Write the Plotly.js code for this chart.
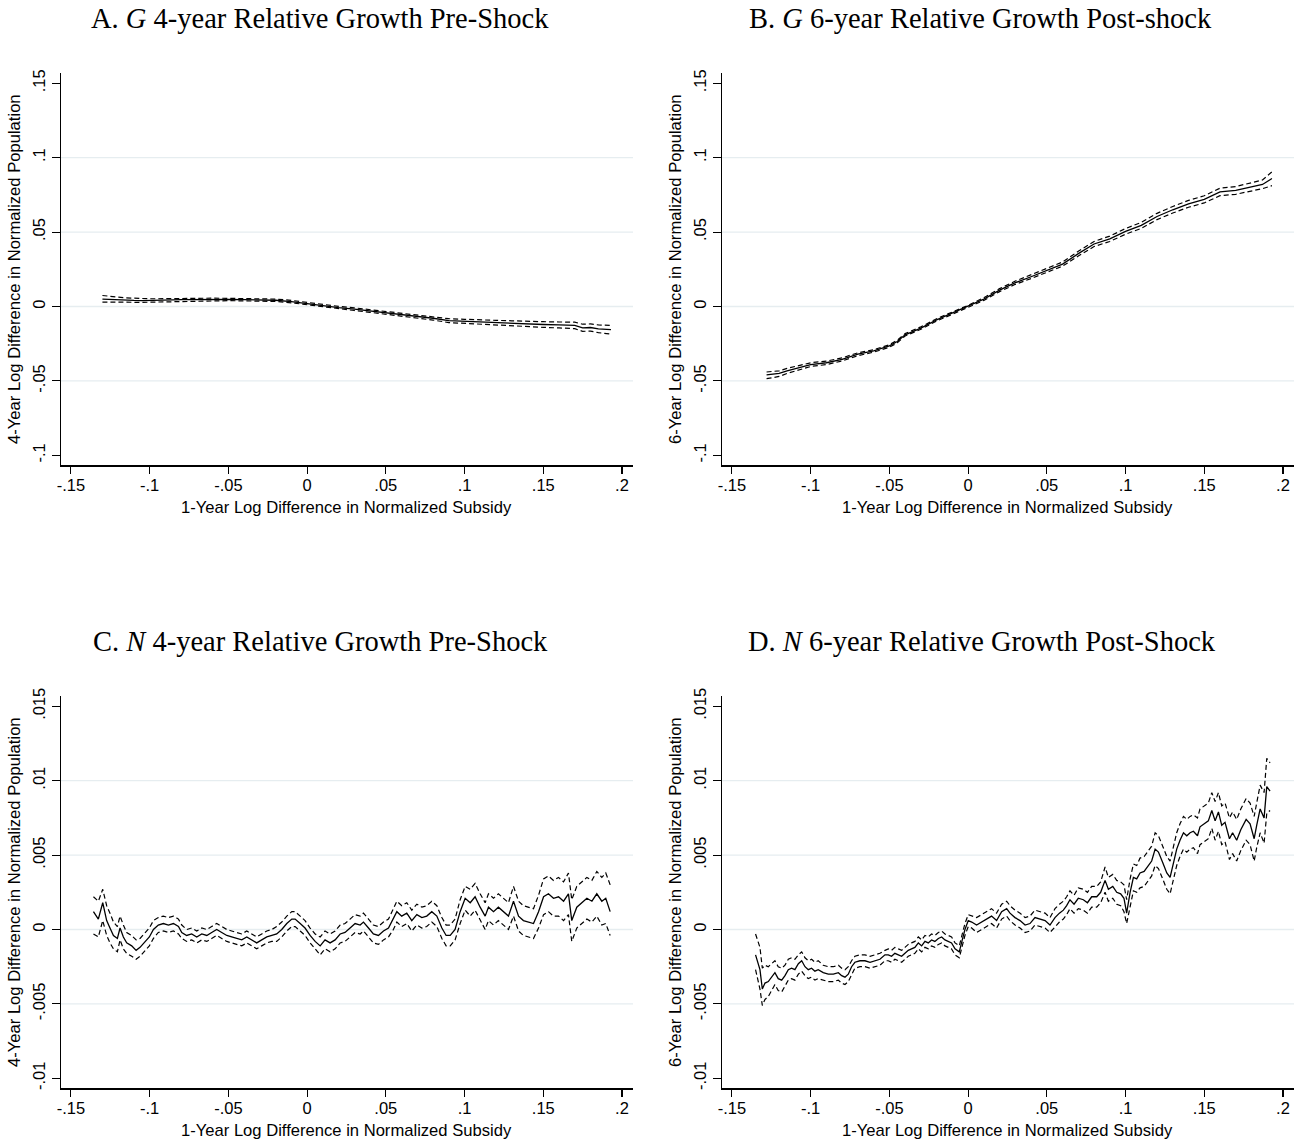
<!DOCTYPE html>
<html>
<head>
<meta charset="utf-8">
<script src="https://cdn.plot.ly/plotly-3.0.1.min.js"></script>
<style>body{margin:0;background:#fff;}</style>
</head>
<body>
<div id="chart" style="width:1306px;height:1143px;"></div>
<script>
// panel A: G, 4-year pre-shock
var aX = [-0.130,-0.125,-0.120,-0.115,-0.110,-0.105,-0.100,-0.095,-0.090,-0.085,
  -0.080,-0.070,-0.060,-0.050,-0.040,-0.030,-0.020,-0.010,0.000,0.010,
  0.020,0.030,0.040,0.050,0.060,0.070,0.080,0.090,0.100,0.110,
  0.120,0.130,0.140,0.150,0.160,0.170,0.175,0.180,0.185,0.193];
var aFit = [0.0050,0.0047,0.0046,0.0043,0.0041,0.0040,0.0040,0.0041,0.0043,0.0044,
  0.0046,0.0048,0.0048,0.0047,0.0046,0.0044,0.0042,0.0033,0.0019,0.0006,
  -0.0007,-0.0018,-0.0030,-0.0042,-0.0054,-0.0065,-0.0079,-0.0095,-0.0100,-0.0102,
  -0.0109,-0.0113,-0.0119,-0.0121,-0.0124,-0.0127,-0.0143,-0.0141,-0.0150,-0.0155];
var aHi = [0.0074,0.0066,0.0063,0.0058,0.0055,0.0053,0.0052,0.0052,0.0053,0.0054,
  0.0055,0.0056,0.0056,0.0055,0.0054,0.0052,0.0050,0.0041,0.0027,0.0014,
  0.0001,-0.0009,-0.0021,-0.0032,-0.0043,-0.0054,-0.0067,-0.0082,-0.0086,-0.0087,
  -0.0093,-0.0096,-0.0101,-0.0102,-0.0104,-0.0105,-0.0119,-0.0117,-0.0124,-0.0127];
var aLo = [0.0030,0.0029,0.0030,0.0029,0.0028,0.0028,0.0029,0.0030,0.0033,0.0035,
  0.0037,0.0040,0.0040,0.0039,0.0038,0.0036,0.0034,0.0025,0.0011,-0.0002,
  -0.0015,-0.0027,-0.0039,-0.0052,-0.0065,-0.0076,-0.0091,-0.0108,-0.0114,-0.0117,
  -0.0125,-0.0130,-0.0137,-0.0140,-0.0144,-0.0149,-0.0167,-0.0165,-0.0176,-0.0185];

// panel B: G, 6-year post-shock
var bX = [-0.128,-0.120,-0.115,-0.108,-0.100,-0.090,-0.080,-0.070,-0.060,-0.050,
  -0.045,-0.040,-0.030,-0.020,-0.010,0.000,0.010,0.020,0.030,0.040,
  0.050,0.060,0.070,0.080,0.090,0.100,0.110,0.120,0.130,0.140,
  0.150,0.160,0.170,0.180,0.187,0.193];
var bFit = [-0.0460,-0.0450,-0.0432,-0.0412,-0.0390,-0.0378,-0.0355,-0.0320,-0.0298,-0.0265,
  -0.0235,-0.0190,-0.0145,-0.0090,-0.0045,0.0000,0.0050,0.0110,0.0160,0.0200,
  0.0245,0.0285,0.0355,0.0420,0.0455,0.0505,0.0545,0.0605,0.0650,0.0690,
  0.0720,0.0770,0.0780,0.0805,0.0820,0.0860];
var bHi = [-0.0440,-0.0432,-0.0416,-0.0398,-0.0378,-0.0367,-0.0345,-0.0311,-0.0290,-0.0257,
  -0.0227,-0.0182,-0.0137,-0.0082,-0.0037,0.0008,0.0059,0.0120,0.0171,0.0212,
  0.0258,0.0299,0.0371,0.0437,0.0473,0.0524,0.0565,0.0626,0.0672,0.0713,
  0.0744,0.0795,0.0806,0.0832,0.0850,0.0905];
var bLo = [-0.0485,-0.0470,-0.0450,-0.0428,-0.0403,-0.0390,-0.0366,-0.0330,-0.0307,-0.0274,
  -0.0244,-0.0198,-0.0153,-0.0098,-0.0053,-0.0008,0.0041,0.0100,0.0149,0.0188,
  0.0232,0.0271,0.0339,0.0403,0.0437,0.0486,0.0525,0.0584,0.0628,0.0667,
  0.0696,0.0745,0.0754,0.0778,0.0792,0.0812];

// panel C: N, 4-year pre-shock
var cX = [-0.1357,-0.1326,-0.1298,-0.1273,-0.1252,-0.1230,-0.1205,-0.1188,-0.1167,-0.1146,
  -0.1114,-0.1086,-0.1061,-0.1029,-0.1002,-0.0976,-0.0945,-0.0913,-0.0881,-0.0849,
  -0.0817,-0.0796,-0.0765,-0.0733,-0.0701,-0.0669,-0.0637,-0.0606,-0.0574,-0.0542,
  -0.0510,-0.0479,-0.0447,-0.0415,-0.0383,-0.0352,-0.0320,-0.0288,-0.0256,-0.0224,
  -0.0193,-0.0161,-0.0129,-0.0097,-0.0076,-0.0044,-0.0013,0.0019,0.0051,0.0083,
  0.0114,0.0146,0.0178,0.0210,0.0241,0.0273,0.0305,0.0337,0.0358,0.0390,
  0.0421,0.0453,0.0485,0.0517,0.0548,0.0570,0.0601,0.0633,0.0665,0.0697,
  0.0729,0.0760,0.0792,0.0824,0.0856,0.0883,0.0909,0.0940,0.0972,0.1004,
  0.1036,0.1067,0.1099,0.1131,0.1152,0.1184,0.1215,0.1247,0.1279,0.1311,
  0.1343,0.1374,0.1406,0.1438,0.1470,0.1502,0.1533,0.1565,0.1597,0.1629,
  0.1660,0.1681,0.1713,0.1745,0.1777,0.1809,0.1840,0.1872,0.1897,0.1925];
var cFit = [0.0012,0.0007,0.0018,0.0006,0.0001,-0.0004,-0.0006,0.0001,-0.0005,-0.0009,
  -0.0011,-0.0014,-0.0012,-0.0008,-0.0005,0.0000,0.0003,0.0004,0.0003,0.0004,
  0.0002,-0.0002,-0.0004,-0.0003,-0.0005,-0.0003,-0.0004,-0.0002,0.0000,-0.0002,
  -0.0004,-0.0005,-0.0006,-0.0007,-0.0005,-0.0007,-0.0009,-0.0007,-0.0005,-0.0004,
  -0.0003,0.0000,0.0004,0.0007,0.0007,0.0004,0.0001,-0.0004,-0.0008,-0.0011,
  -0.0007,-0.0009,-0.0007,-0.0003,-0.0002,0.0001,0.0004,0.0003,0.0005,0.0001,
  -0.0003,-0.0004,-0.0001,0.0001,0.0007,0.0012,0.0009,0.0011,0.0006,0.0010,
  0.0008,0.0009,0.0012,0.0009,0.0001,-0.0004,-0.0004,0.0000,0.0012,0.0021,
  0.0018,0.0022,0.0015,0.0009,0.0015,0.0012,0.0015,0.0012,0.0009,0.0019,
  0.0009,0.0006,0.0005,0.0004,0.0012,0.0022,0.0024,0.0021,0.0022,0.0019,
  0.0024,0.0006,0.0015,0.0018,0.0021,0.0019,0.0024,0.0019,0.0021,0.0012];
var cHi = [0.0022,0.0019,0.0027,0.0016,0.0011,0.0005,0.0002,0.0009,0.0003,-0.0002,
  -0.0004,-0.0007,-0.0006,-0.0002,0.0001,0.0006,0.0008,0.0009,0.0008,0.0009,
  0.0007,0.0003,0.0000,0.0001,-0.0001,0.0001,0.0000,0.0002,0.0004,0.0002,
  0.0000,-0.0001,-0.0002,-0.0003,-0.0001,-0.0003,-0.0005,-0.0003,-0.0001,0.0000,
  0.0002,0.0005,0.0009,0.0012,0.0012,0.0009,0.0006,0.0001,-0.0003,-0.0005,
  -0.0001,-0.0003,-0.0001,0.0003,0.0004,0.0007,0.0010,0.0009,0.0011,0.0007,
  0.0003,0.0002,0.0005,0.0007,0.0014,0.0019,0.0016,0.0018,0.0013,0.0017,
  0.0015,0.0016,0.0019,0.0016,0.0008,0.0003,0.0003,0.0007,0.0020,0.0029,
  0.0027,0.0031,0.0024,0.0018,0.0024,0.0021,0.0024,0.0021,0.0018,0.0029,
  0.0019,0.0016,0.0015,0.0014,0.0023,0.0034,0.0036,0.0033,0.0035,0.0032,
  0.0038,0.0020,0.0029,0.0032,0.0035,0.0033,0.0039,0.0035,0.0038,0.0030];
var cLo = [-0.0003,-0.0005,0.0006,-0.0004,-0.0009,-0.0013,-0.0015,-0.0007,-0.0013,-0.0016,
  -0.0018,-0.0020,-0.0018,-0.0014,-0.0011,-0.0006,-0.0002,-0.0001,-0.0002,-0.0001,
  -0.0003,-0.0006,-0.0008,-0.0007,-0.0009,-0.0007,-0.0008,-0.0006,-0.0004,-0.0006,
  -0.0008,-0.0009,-0.0010,-0.0011,-0.0009,-0.0011,-0.0013,-0.0011,-0.0009,-0.0008,
  -0.0008,-0.0005,-0.0001,0.0002,0.0002,-0.0001,-0.0004,-0.0009,-0.0013,-0.0017,
  -0.0013,-0.0015,-0.0013,-0.0009,-0.0008,-0.0005,-0.0002,-0.0003,-0.0001,-0.0005,
  -0.0009,-0.0010,-0.0007,-0.0005,0.0000,0.0005,0.0002,0.0004,-0.0001,0.0003,
  0.0001,0.0002,0.0005,0.0002,-0.0006,-0.0011,-0.0011,-0.0007,0.0004,0.0013,
  0.0009,0.0013,0.0006,0.0000,0.0006,0.0003,0.0006,0.0003,0.0000,0.0009,
  -0.0001,-0.0004,-0.0005,-0.0006,0.0001,0.0010,0.0012,0.0009,0.0009,0.0006,
  0.0010,-0.0008,0.0001,0.0004,0.0007,0.0005,0.0009,0.0003,0.0004,-0.0004];

// panel D: N, 6-year post-shock
var dX = [-0.1350,-0.1322,-0.1307,-0.1290,-0.1269,-0.1248,-0.1227,-0.1206,-0.1184,-0.1163,
  -0.1142,-0.1121,-0.1100,-0.1078,-0.1057,-0.1036,-0.1015,-0.0994,-0.0973,-0.0952,
  -0.0920,-0.0888,-0.0856,-0.0824,-0.0803,-0.0782,-0.0761,-0.0740,-0.0719,-0.0687,
  -0.0655,-0.0623,-0.0592,-0.0560,-0.0528,-0.0507,-0.0486,-0.0465,-0.0443,-0.0422,
  -0.0401,-0.0380,-0.0359,-0.0338,-0.0316,-0.0295,-0.0274,-0.0253,-0.0232,-0.0211,
  -0.0189,-0.0168,-0.0147,-0.0126,-0.0105,-0.0083,-0.0056,-0.0037,-0.0020,0.0001,
  0.0023,0.0054,0.0086,0.0118,0.0149,0.0181,0.0213,0.0245,0.0266,0.0298,
  0.0330,0.0362,0.0393,0.0425,0.0457,0.0489,0.0520,0.0552,0.0580,0.0605,
  0.0626,0.0647,0.0673,0.0700,0.0732,0.0758,0.0785,0.0817,0.0842,0.0870,
  0.0891,0.0919,0.0944,0.0969,0.0990,0.1007,0.1029,0.1050,0.1071,0.1092,
  0.1118,0.1145,0.1166,0.1188,0.1209,0.1236,0.1262,0.1283,0.1304,0.1325,
  0.1346,0.1368,0.1389,0.1410,0.1431,0.1457,0.1473,0.1499,0.1526,0.1548,
  0.1569,0.1590,0.1611,0.1632,0.1660,0.1680,0.1706,0.1732,0.1766,0.1791,
  0.1817,0.1833,0.1855,0.1880,0.1897,0.1918];
var dFit = [-0.0017,-0.0027,-0.0040,-0.0036,-0.0035,-0.0032,-0.0029,-0.0033,-0.0034,-0.0031,
  -0.0027,-0.0026,-0.0027,-0.0023,-0.0021,-0.0025,-0.0027,-0.0026,-0.0028,-0.0027,
  -0.0029,-0.0030,-0.0030,-0.0029,-0.0031,-0.0032,-0.0030,-0.0025,-0.0022,-0.0021,
  -0.0021,-0.0022,-0.0021,-0.0020,-0.0017,-0.0017,-0.0018,-0.0016,-0.0017,-0.0018,
  -0.0016,-0.0014,-0.0013,-0.0012,-0.0009,-0.0011,-0.0008,-0.0009,-0.0007,-0.0008,
  -0.0006,-0.0005,-0.0007,-0.0008,-0.0009,-0.0013,-0.0015,-0.0007,0.0000,0.0006,
  0.0005,0.0003,0.0005,0.0007,0.0009,0.0006,0.0012,0.0014,0.0011,0.0008,
  0.0006,0.0003,0.0004,0.0008,0.0007,0.0006,0.0003,0.0008,0.0011,0.0013,
  0.0016,0.0020,0.0017,0.0021,0.0020,0.0018,0.0022,0.0022,0.0025,0.0033,
  0.0027,0.0029,0.0025,0.0024,0.0021,0.0011,0.0025,0.0035,0.0034,0.0038,
  0.0039,0.0043,0.0046,0.0054,0.0052,0.0045,0.0038,0.0035,0.0044,0.0054,
  0.0060,0.0065,0.0063,0.0065,0.0066,0.0063,0.0069,0.0071,0.0073,0.0080,
  0.0073,0.0079,0.0070,0.0072,0.0061,0.0065,0.0060,0.0067,0.0074,0.0071,
  0.0061,0.0070,0.0081,0.0075,0.0096,0.0093];
var dHi = [-0.0003,-0.0012,-0.0026,-0.0024,-0.0025,-0.0023,-0.0021,-0.0025,-0.0026,-0.0024,
  -0.0020,-0.0019,-0.0020,-0.0017,-0.0015,-0.0019,-0.0021,-0.0020,-0.0022,-0.0021,
  -0.0024,-0.0025,-0.0025,-0.0024,-0.0026,-0.0027,-0.0025,-0.0021,-0.0018,-0.0017,
  -0.0017,-0.0018,-0.0017,-0.0016,-0.0014,-0.0013,-0.0014,-0.0012,-0.0013,-0.0014,
  -0.0012,-0.0010,-0.0009,-0.0008,-0.0005,-0.0007,-0.0004,-0.0005,-0.0003,-0.0004,
  -0.0002,-0.0001,-0.0003,-0.0004,-0.0005,-0.0009,-0.0011,-0.0003,0.0004,0.0010,
  0.0009,0.0008,0.0010,0.0012,0.0014,0.0011,0.0017,0.0019,0.0016,0.0013,
  0.0011,0.0008,0.0009,0.0013,0.0012,0.0011,0.0008,0.0014,0.0017,0.0019,
  0.0022,0.0026,0.0023,0.0028,0.0027,0.0025,0.0029,0.0029,0.0032,0.0042,
  0.0035,0.0037,0.0033,0.0032,0.0030,0.0020,0.0034,0.0044,0.0043,0.0048,
  0.0049,0.0053,0.0056,0.0065,0.0063,0.0056,0.0049,0.0046,0.0055,0.0065,
  0.0071,0.0076,0.0074,0.0076,0.0077,0.0075,0.0081,0.0083,0.0085,0.0092,
  0.0086,0.0092,0.0083,0.0085,0.0075,0.0079,0.0074,0.0081,0.0088,0.0085,
  0.0076,0.0085,0.0097,0.0092,0.0115,0.0112];
var dLo = [-0.0027,-0.0040,-0.0051,-0.0047,-0.0045,-0.0041,-0.0037,-0.0041,-0.0042,-0.0038,
  -0.0034,-0.0033,-0.0034,-0.0030,-0.0028,-0.0031,-0.0033,-0.0032,-0.0034,-0.0033,
  -0.0034,-0.0035,-0.0035,-0.0034,-0.0036,-0.0037,-0.0035,-0.0030,-0.0026,-0.0025,
  -0.0025,-0.0026,-0.0025,-0.0024,-0.0021,-0.0021,-0.0022,-0.0020,-0.0021,-0.0022,
  -0.0020,-0.0018,-0.0017,-0.0016,-0.0013,-0.0015,-0.0012,-0.0013,-0.0011,-0.0012,
  -0.0010,-0.0009,-0.0011,-0.0012,-0.0013,-0.0017,-0.0019,-0.0011,-0.0004,0.0002,
  0.0001,-0.0002,0.0000,0.0002,0.0004,0.0001,0.0007,0.0009,0.0006,0.0003,
  0.0001,-0.0002,-0.0001,0.0003,0.0002,0.0001,-0.0002,0.0002,0.0005,0.0007,
  0.0010,0.0014,0.0011,0.0014,0.0013,0.0011,0.0015,0.0015,0.0018,0.0025,
  0.0019,0.0021,0.0017,0.0016,0.0012,0.0004,0.0016,0.0026,0.0025,0.0028,
  0.0029,0.0033,0.0036,0.0043,0.0041,0.0034,0.0027,0.0024,0.0033,0.0043,
  0.0049,0.0054,0.0052,0.0054,0.0055,0.0051,0.0057,0.0059,0.0061,0.0068,
  0.0060,0.0066,0.0057,0.0059,0.0047,0.0051,0.0046,0.0053,0.0060,0.0057,
  0.0046,0.0055,0.0065,0.0058,0.0078,0.0080];

// ticks
var xTickVals = [-0.15,-0.1,-0.05,0,0.05,0.1,0.15,0.2];
var xTickText = ["-.15","-.1","-.05","0",".05",".1",".15",".2"];
var gTickVals = [-0.1,-0.05,0,0.05,0.1,0.15];
var gTickText = ["-.1","-.05","0",".05",".1",".15"];
var nTickVals = [-0.01,-0.005,0,0.005,0.01,0.015];
var nTickText = ["-.01","-.005","0",".005",".01",".015"];
var gGrid = [-0.05,0,0.05,0.1];
var nGrid = [-0.005,0,0.005,0.01];

var titles = ["A. <i>G</i> 4-year Relative Growth Pre-Shock",
  "B. <i>G</i> 6-year Relative Growth Post-shock",
  "C. <i>N</i> 4-year Relative Growth Pre-Shock",
  "D. <i>N</i> 6-year Relative Growth Post-Shock"];
var xTitle = "1-Year Log Difference in Normalized Subsidy";
var yTitles = ["4-Year Log Difference in Normalized Population",
  "6-Year Log Difference in Normalized Population",
  "4-Year Log Difference in Normalized Population",
  "6-Year Log Difference in Normalized Population"];

var SANS = "Liberation Sans, Arial, sans-serif";
var SERIF = "Liberation Serif, Times New Roman, serif";
var DASH = "5px,3px";

function band(x, y, n, dashed) {
  return {
    x: x, y: y, xaxis: "x" + n, yaxis: "y" + n,
    mode: "lines", type: "scatter", hoverinfo: "skip",
    line: {color: "#000", width: dashed ? 1.2 : 1.3, dash: dashed ? DASH : "solid"}
  };
}

var data = [
  band(aX, aLo, "", true), band(aX, aHi, "", true), band(aX, aFit, "", false),
  band(bX, bLo, 2, true), band(bX, bHi, 2, true), band(bX, bFit, 2, false),
  band(cX, cLo, 3, true), band(cX, cHi, 3, true), band(cX, cFit, 3, false),
  band(dX, dLo, 4, true), band(dX, dHi, 4, true), band(dX, dFit, 4, false)
];

// plot areas in page pixels (left, right, top, bottom)
var W = 1306, H = 1143;
var boxes = [
  [60.7, 633, 73.3, 465.3],
  [721.7, 1294, 73.3, 465.3],
  [60.7, 633, 696.3, 1088.3],
  [721.7, 1294, 696.3, 1088.3]
];
var titleX = [320, 980, 320, 982];

function xAxis(i) {
  var b = boxes[i];
  return {
    domain: [b[0] / W, b[1] / W], anchor: "y" + (i ? i + 1 : ""),
    range: [-0.1565, 0.207], tickvals: xTickVals, ticktext: xTickText,
    showline: true, linecolor: "#000", linewidth: 1.2,
    ticks: "outside", ticklen: 7.5, tickwidth: 1.1, tickcolor: "#000",
    ticklabelstandoff: -3,
    showgrid: false, zeroline: false, automargin: false,
    tickfont: {family: SANS, size: 16.5, color: "#000"}
  };
}
function yAxis(i) {
  var b = boxes[i];
  var g = i < 2;
  return {
    domain: [1 - b[3] / H, 1 - b[2] / H], anchor: "x" + (i ? i + 1 : ""),
    range: g ? [-0.1067, 0.1567] : [-0.01067, 0.01567],
    tickvals: g ? gTickVals : nTickVals, ticktext: g ? gTickText : nTickText,
    tickangle: -90,
    showline: true, linecolor: "#000", linewidth: 1.2,
    ticks: "outside", ticklen: 7.5, tickwidth: 1.1, tickcolor: "#000",
    showgrid: false, zeroline: false, automargin: false,
    tickfont: {family: SANS, size: 16.5, color: "#000"}
  };
}

var layout = {
  width: W, height: H,
  margin: {l: 0, r: 0, t: 0, b: 0},
  paper_bgcolor: "#fff", plot_bgcolor: "#fff",
  showlegend: false,
  annotations: [],
  shapes: []
};

for (var i = 0; i < 4; i++) {
  var sfx = i ? i + 1 : "";
  layout["xaxis" + sfx] = xAxis(i);
  layout["yaxis" + sfx] = yAxis(i);
  var b = boxes[i];
  var grid = i < 2 ? gGrid : nGrid;
  grid.forEach(function (v) {
    layout.shapes.push({
      type: "line", layer: "below", xref: "x" + sfx + " domain", yref: "y" + sfx,
      x0: 0, x1: 1, y0: v, y1: v,
      line: {color: "#e6edf0", width: 1.3}
    });
  });
  layout.annotations.push({
    text: titles[i], showarrow: false, xref: "paper", yref: "paper",
    x: titleX[i] / W, y: 1 - (b[2] - 55) / H, xanchor: "center", yanchor: "middle",
    font: {family: SERIF, size: 28.5, color: "#000"}
  });
  layout.annotations.push({
    text: xTitle, showarrow: false, xref: "paper", yref: "paper",
    x: (b[0] + b[1]) / 2 / W, y: 1 - (b[3] + 42) / H, xanchor: "center", yanchor: "middle",
    font: {family: SANS, size: 16.6, color: "#000"}
  });
  layout.annotations.push({
    text: yTitles[i], showarrow: false, xref: "paper", yref: "paper", textangle: -90,
    x: (b[0] - 46) / W, y: 1 - (b[2] + b[3]) / 2 / H, xanchor: "center", yanchor: "middle",
    font: {family: SANS, size: 16.6, color: "#000"}
  });
}

var config = {responsive: false, displayModeBar: false, staticPlot: true};
Plotly.newPlot(document.getElementById("chart"), data, layout, config);
</script>
</body>
</html>
